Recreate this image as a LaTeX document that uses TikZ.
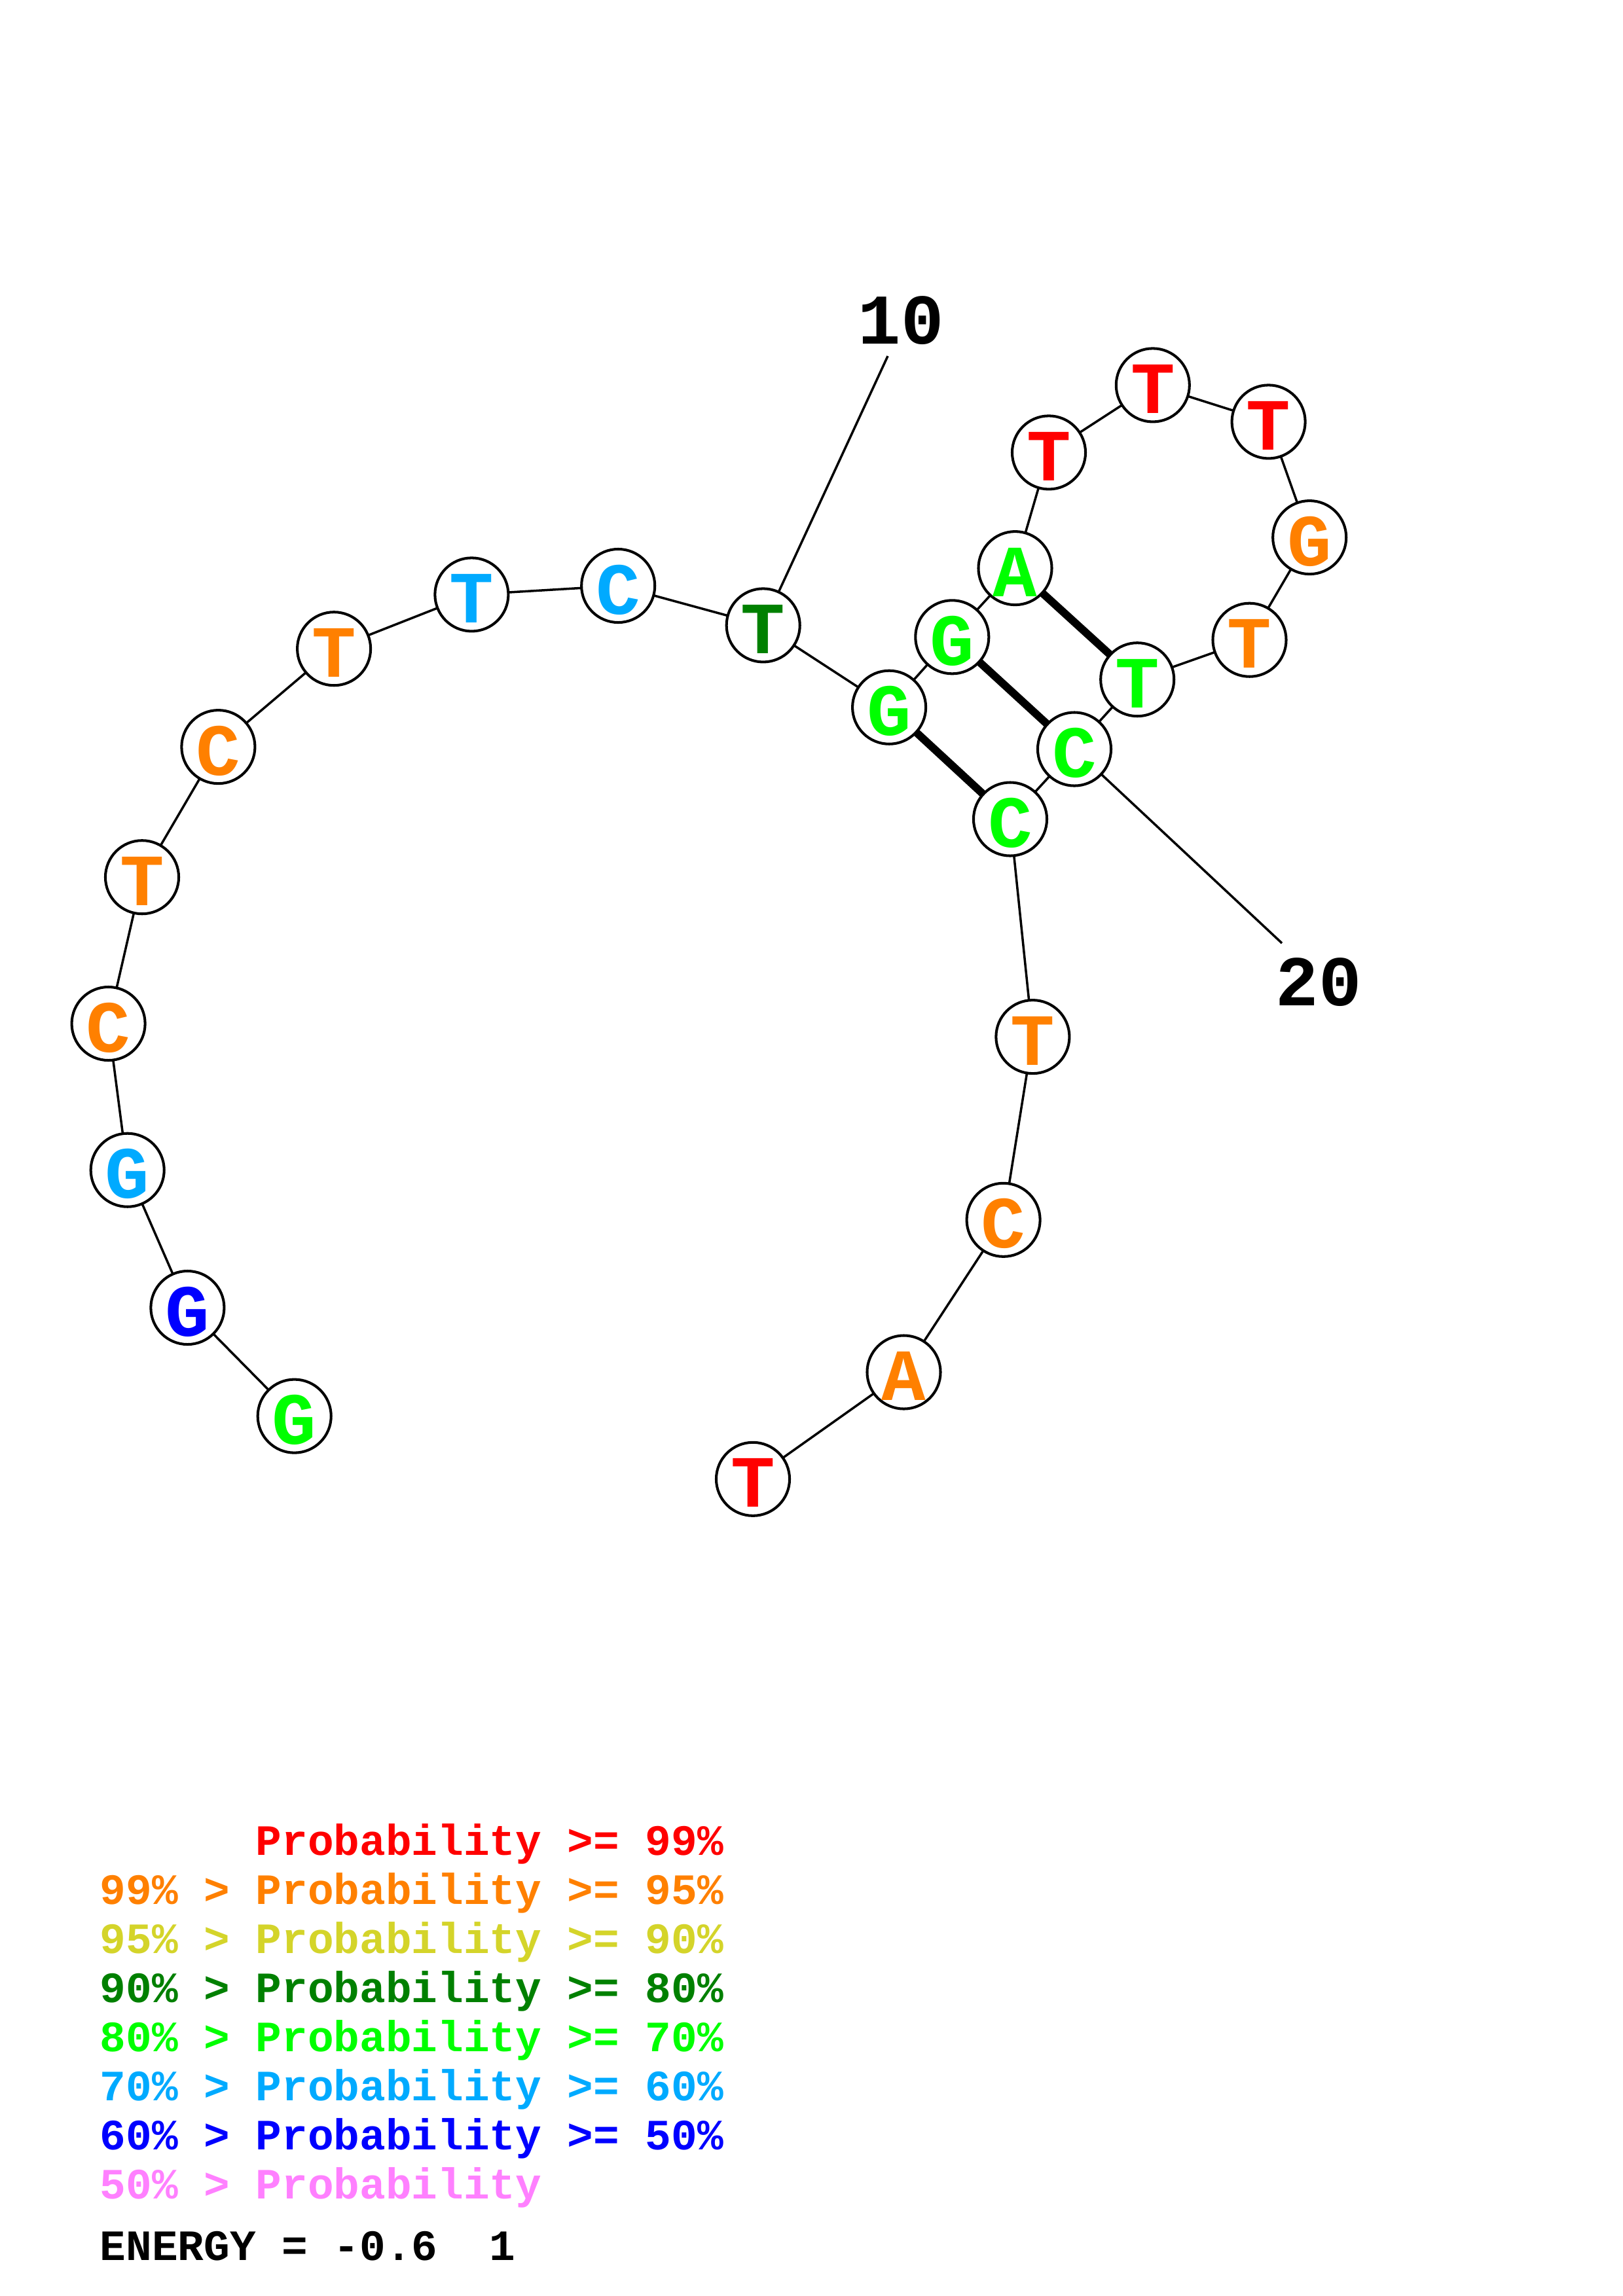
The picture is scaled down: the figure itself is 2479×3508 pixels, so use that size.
\documentclass[tikz,border=0pt]{standalone}
\usepackage{fontspec}
\setmainfont{Liberation Mono}
\definecolor{pred}{RGB}{255,0,0}
\definecolor{porange}{RGB}{255,128,0}
\definecolor{pyellow}{RGB}{212,212,42}
\definecolor{pdgreen}{RGB}{0,128,0}
\definecolor{pgreen}{RGB}{0,255,0}
\definecolor{plblue}{RGB}{0,170,255}
\definecolor{pblue}{RGB}{0,0,255}
\definecolor{ppink}{RGB}{255,128,255}
\newcommand{\nt}[5]{%
  \node[basecirc] (#1) at (#2,#3) {};
  \node[baselet,text=#4] at ([yshift=-6*0.01cm]#1.center) {#5};}
\begin{document}
\begin{tikzpicture}[x=0.01cm,y=-0.01cm,
  basecirc/.style={circle,draw=black,fill=white,line width=1.15pt,minimum size=1.12cm,inner sep=0pt},
  baselet/.style={font=\bfseries\fontsize{32}{32}\selectfont,inner sep=0pt},
  backbone/.style={line width=1pt,black},
  pairline/.style={line width=3.4pt,black},
  numlab/.style={font=\bfseries\fontsize{31}{31}\selectfont,inner sep=0pt},
  legend/.style={font=\bfseries\fontsize{18.8}{18.8}\selectfont,inner sep=0pt,anchor=base west}]
\useasboundingbox (0,0) rectangle (2479,3508);
\fill[white] (0,0) rectangle (2479,3508);
% coordinates
\coordinate (p1) at (449.7,2163.6);
\coordinate (p2) at (286.4,1998.0);
\coordinate (p3) at (194.7,1787.7);
\coordinate (p4) at (165.6,1564.0);
\coordinate (p5) at (217.0,1340.2);
\coordinate (p6) at (333.4,1141.1);
\coordinate (p7) at (510.1,991.2);
\coordinate (p8) at (720.4,908.4);
\coordinate (p9) at (944.2,895.0);
\coordinate (p10) at (1165.7,955.4);
\coordinate (p11) at (1358.1,1080.7);
\coordinate (p12) at (1454.3,973.3);
\coordinate (p13) at (1550.5,868.1);
\coordinate (p14) at (1602.0,691.4);
\coordinate (p15) at (1760.8,588.4);
\coordinate (p16) at (1937.6,644.4);
\coordinate (p17) at (2000.2,821.1);
\coordinate (p18) at (1908.5,977.7);
\coordinate (p19) at (1737.2,1038.2);
\coordinate (p20) at (1641.0,1144.5);
\coordinate (p21) at (1543.0,1251.5);
\coordinate (p22) at (1577.4,1584.1);
\coordinate (p23) at (1532.6,1863.8);
\coordinate (p24) at (1380.5,2096.5);
\coordinate (p25) at (1150.0,2259.8);
\coordinate (l10) at (1356,544);
\coordinate (l20) at (1958,1441);
% lines
\draw[backbone] (p1)--(p2)--(p3)--(p4)--(p5)--(p6)--(p7)--(p8)--(p9)--(p10)--(p11)--(p12)--(p13)--(p14)--(p15)--(p16)--(p17)--(p18)--(p19)--(p20)--(p21)--(p22)--(p23)--(p24)--(p25);
\draw[backbone] (p10)--(l10);
\draw[backbone] (p20)--(l20);
\draw[pairline] (p11)--(p21);
\draw[pairline] (p12)--(p20);
\draw[pairline] (p13)--(p19);
% nodes
\nt{n1}{449.7}{2163.6}{pgreen}{G}
\nt{n2}{286.4}{1998.0}{pblue}{G}
\nt{n3}{194.7}{1787.7}{plblue}{G}
\nt{n4}{165.6}{1564.0}{porange}{C}
\nt{n5}{217.0}{1340.2}{porange}{T}
\nt{n6}{333.4}{1141.1}{porange}{C}
\nt{n7}{510.1}{991.2}{porange}{T}
\nt{n8}{720.4}{908.4}{plblue}{T}
\nt{n9}{944.2}{895.0}{plblue}{C}
\nt{n10}{1165.7}{955.4}{pdgreen}{T}
\nt{n11}{1358.1}{1080.7}{pgreen}{G}
\nt{n12}{1454.3}{973.3}{pgreen}{G}
\nt{n13}{1550.5}{868.1}{pgreen}{A}
\nt{n14}{1602.0}{691.4}{pred}{T}
\nt{n15}{1760.8}{588.4}{pred}{T}
\nt{n16}{1937.6}{644.4}{pred}{T}
\nt{n17}{2000.2}{821.1}{porange}{G}
\nt{n18}{1908.5}{977.7}{porange}{T}
\nt{n19}{1737.2}{1038.2}{pgreen}{T}
\nt{n20}{1641.0}{1144.5}{pgreen}{C}
\nt{n21}{1543.0}{1251.5}{pgreen}{C}
\nt{n22}{1577.4}{1584.1}{porange}{T}
\nt{n23}{1532.6}{1863.8}{porange}{C}
\nt{n24}{1380.5}{2096.5}{porange}{A}
\nt{n25}{1150.0}{2259.8}{pred}{T}
% number labels
\node[numlab] (t10) at (1376,490) {10};
\node[numlab] (t20) at (2014,1501) {20};
% legend
\node[legend,text=pred] (g1) at (390,2834) {Probability >= 99\%};
\node[legend,text=porange] (g2) at (152,2909) {99\% > Probability >= 95\%};
\node[legend,text=pyellow] (g3) at (152,2984) {95\% > Probability >= 90\%};
\node[legend,text=pdgreen] (g4) at (152,3059) {90\% > Probability >= 80\%};
\node[legend,text=pgreen] (g5) at (152,3134) {80\% > Probability >= 70\%};
\node[legend,text=plblue] (g6) at (152,3209) {70\% > Probability >= 60\%};
\node[legend,text=pblue] (g7) at (152,3284) {60\% > Probability >= 50\%};
\node[legend,text=ppink] (g8) at (152,3359) {50\% > Probability};
\node[legend,text=black] (en) at (152,3453) {ENERGY = -0.6\ \ 1};
\end{tikzpicture}
\end{document}
